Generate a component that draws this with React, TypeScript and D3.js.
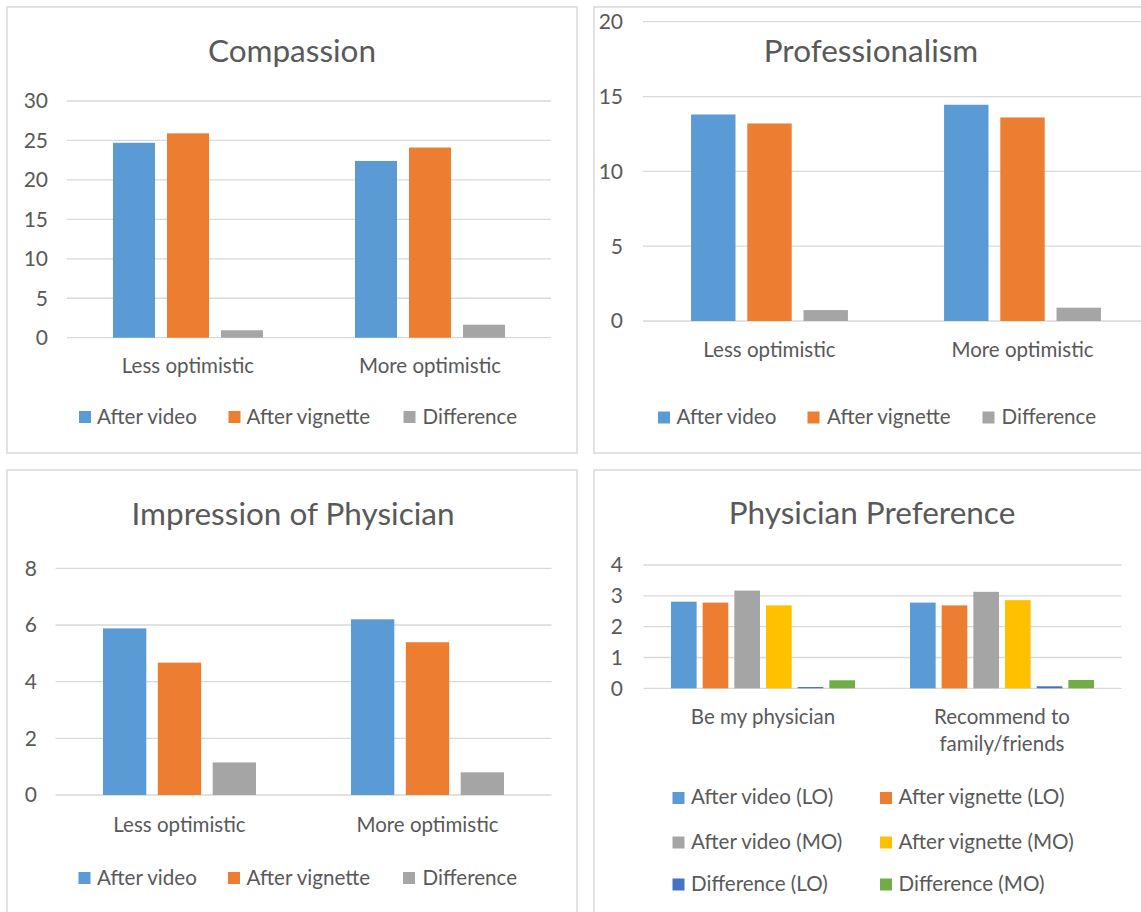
import React from 'react';
import * as d3 from 'd3';

// ---------- data ----------
const optimismCategories = ['Less optimistic', 'More optimistic'];
const threeSeries = ['After video', 'After vignette', 'Difference'];

const compassionAfterVideo = [24.7, 22.4];
const compassionAfterVignette = [25.9, 24.1];
const compassionDifference = [0.94, 1.65];

const professionalismAfterVideo = [13.8, 14.45];
const professionalismAfterVignette = [13.2, 13.6];
const professionalismDifference = [0.73, 0.89];

const impressionAfterVideo = [5.88, 6.2];
const impressionAfterVignette = [4.67, 5.39];
const impressionDifference = [1.15, 0.8];

const preferenceCategories = ['Be my physician', 'Recommend to family/friends'];
const preferenceCategoryLines = [['Be my physician'], ['Recommend to', 'family/friends']];
const sixSeries = [
  'After video (LO)',
  'After vignette (LO)',
  'After video (MO)',
  'After vignette (MO)',
  'Difference (LO)',
  'Difference (MO)',
];
const prefAfterVideoLO = [2.81, 2.78];
const prefAfterVignetteLO = [2.78, 2.69];
const prefAfterVideoMO = [3.17, 3.13];
const prefAfterVignetteMO = [2.69, 2.86];
const prefDifferenceLO = [0.04, 0.065];
const prefDifferenceMO = [0.26, 0.27];

const ticks30 = [0, 5, 10, 15, 20, 25, 30];
const ticks20 = [0, 5, 10, 15, 20];
const ticks8 = [0, 2, 4, 6, 8];
const ticks4 = [0, 1, 2, 3, 4];

// ---------- style ----------
const FONT = "Lato, 'Open Sans', sans-serif";
const TEXT = '#595959';
const GRID = '#d9d9d9';
const COLORS3 = ['#5b9bd5', '#ed7d31', '#a5a5a5'];
const COLORS6 = ['#5b9bd5', '#ed7d31', '#a5a5a5', '#ffc000', '#4472c4', '#70ad47'];

type LegendPos = { sx: number; sy: number; tx: number; ty: number };

type PanelProps = {
  frame: { x: number; y: number; w: number; h: number };
  title: string;
  titleX: number;
  titleY: number;
  titleSize: number;
  categories: string[];
  categoryLines: string[][];
  catBaseline: number;
  catLineGap: number;
  seriesNames: string[];
  colors: string[];
  values: number[][];
  ticks: number[];
  plotLeft: number;
  plotRight: number;
  plotTop: number;
  plotBottom: number;
  groupFrac: number;
  innerPad: number;
  tickRight: number;
  legend: LegendPos[];
};

const Panel = (p: PanelProps) => {
  const x0 = d3.scaleBand<string>().domain(p.categories).range([p.plotLeft, p.plotRight]).padding(0);
  const groupW = x0.bandwidth() * p.groupFrac;
  const groupOff = (x0.bandwidth() - groupW) / 2;
  const x1 = d3
    .scaleBand<string>()
    .domain(p.seriesNames)
    .range([0, groupW])
    .paddingInner(p.innerPad)
    .paddingOuter(0);
  const yMax = p.ticks[p.ticks.length - 1];
  const y = d3.scaleLinear().domain([0, yMax]).range([p.plotBottom, p.plotTop]);

  return (
    <g>
      <rect
        x={p.frame.x}
        y={p.frame.y}
        width={p.frame.w}
        height={p.frame.h}
        fill="#fff"
        stroke={GRID}
        strokeWidth={1.5}
      />
      {p.ticks.map((t) => (
        <g key={'t' + t}>
          <line
            x1={p.plotLeft}
            x2={p.plotRight}
            y1={y(t)}
            y2={y(t)}
            stroke={GRID}
            strokeWidth={1.3}
          />
          <text
            x={p.tickRight}
            y={y(t)}
            dy="0.35em"
            textAnchor="end"
            fontSize={21}
            fill={TEXT}
            fontFamily={FONT}
          >
            {t}
          </text>
        </g>
      ))}
      <text
        x={p.titleX}
        y={p.titleY}
        textAnchor="middle"
        fontSize={p.titleSize}
        fill={TEXT}
        fontFamily={FONT}
      >
        {p.title}
      </text>
      {p.categories.map((c, ci) => (
        <g key={c}>
          {p.seriesNames.map((s, si) => {
            const v = p.values[si][ci];
            const bx = (x0(c) as number) + groupOff + (x1(s) as number);
            return (
              <rect
                key={s}
                x={bx}
                y={y(v)}
                width={x1.bandwidth()}
                height={y(0) - y(v)}
                fill={p.colors[si]}
              />
            );
          })}
          <text
            x={(x0(c) as number) + x0.bandwidth() / 2}
            y={p.catBaseline}
            textAnchor="middle"
            fontSize={20.5}
            fill={TEXT}
            fontFamily={FONT}
          >
            {p.categoryLines[ci].map((ln, li) => (
              <tspan key={li} x={(x0(c) as number) + x0.bandwidth() / 2} dy={li === 0 ? 0 : p.catLineGap}>
                {ln}
              </tspan>
            ))}
          </text>
        </g>
      ))}
      {p.seriesNames.map((s, si) => (
        <g key={'lg' + s}>
          <rect x={p.legend[si].sx} y={p.legend[si].sy} width={12} height={12} fill={p.colors[si]} />
          <text x={p.legend[si].tx} y={p.legend[si].ty} fontSize={20.6} fill={TEXT} fontFamily={FONT}>
            {s}
          </text>
        </g>
      ))}
    </g>
  );
};

const legend3 = (sy: number, ty: number, xs: number[], txs: number[]): LegendPos[] =>
  xs.map((sx, i) => ({ sx, sy, tx: txs[i], ty }));

export default function App() {
  return (
    <svg
      width={1141}
      height={912}
      style={{ position: 'absolute', left: 0, top: 0, display: 'block', background: '#fff' }}
    >
      <Panel
        frame={{ x: 7, y: 7, w: 570, h: 446 }}
        title="Compassion"
        titleX={292}
        titleY={62}
        titleSize={31.5}
        categories={optimismCategories}
        categoryLines={optimismCategories.map((c) => [c])}
        catBaseline={373}
        catLineGap={27}
        seriesNames={threeSeries}
        colors={COLORS3}
        values={[compassionAfterVideo, compassionAfterVignette, compassionDifference]}
        ticks={ticks30}
        plotLeft={67}
        plotRight={551}
        plotTop={101}
        plotBottom={337.7}
        groupFrac={0.62}
        innerPad={0.222}
        tickRight={48}
        legend={legend3(411, 424, [79, 228.5, 403.5], [97, 246.5, 422.5])}
      />
      <Panel
        frame={{ x: 594, y: 7, w: 600, h: 446 }}
        title="Professionalism"
        titleX={871}
        titleY={62}
        titleSize={31.5}
        categories={optimismCategories}
        categoryLines={optimismCategories.map((c) => [c])}
        catBaseline={357}
        catLineGap={27}
        seriesNames={threeSeries}
        colors={COLORS3}
        values={[professionalismAfterVideo, professionalismAfterVignette, professionalismDifference]}
        ticks={ticks20}
        plotLeft={643}
        plotRight={1149}
        plotTop={21.7}
        plotBottom={321}
        groupFrac={0.62}
        innerPad={0.21}
        tickRight={623}
        legend={legend3(411.5, 424, [658, 807.5, 982.5], [676.5, 827, 1001.5])}
      />
      <Panel
        frame={{ x: 7, y: 470, w: 570, h: 460 }}
        title="Impression of Physician"
        titleX={293}
        titleY={525}
        titleSize={31.5}
        categories={optimismCategories}
        categoryLines={optimismCategories.map((c) => [c])}
        catBaseline={832}
        catLineGap={27}
        seriesNames={threeSeries}
        colors={COLORS3}
        values={[impressionAfterVideo, impressionAfterVignette, impressionDifference]}
        ticks={ticks8}
        plotLeft={55.5}
        plotRight={551.5}
        plotTop={568.3}
        plotBottom={795}
        groupFrac={0.617}
        innerPad={0.21}
        tickRight={37}
        legend={legend3(872, 885, [78.5, 228, 403], [97, 246.5, 422.5])}
      />
      <Panel
        frame={{ x: 594, y: 470, w: 600, h: 460 }}
        title="Physician Preference"
        titleX={872}
        titleY={524}
        titleSize={31.5}
        categories={preferenceCategories}
        categoryLines={preferenceCategoryLines}
        catBaseline={724}
        catLineGap={27}
        seriesNames={sixSeries}
        colors={COLORS6}
        values={[
          prefAfterVideoLO,
          prefAfterVignetteLO,
          prefAfterVideoMO,
          prefAfterVignetteMO,
          prefDifferenceLO,
          prefDifferenceMO,
        ]}
        ticks={ticks4}
        plotLeft={643.5}
        plotRight={1121.5}
        plotTop={565}
        plotBottom={688.3}
        groupFrac={0.77}
        innerPad={0.19}
        tickRight={623}
        legend={[
          { sx: 672.5, sy: 792, tx: 691, ty: 804 },
          { sx: 880, sy: 792, tx: 898.5, ty: 804 },
          { sx: 672.5, sy: 836.5, tx: 691, ty: 849 },
          { sx: 880, sy: 836.5, tx: 898.5, ty: 849 },
          { sx: 672.5, sy: 878.5, tx: 691, ty: 891 },
          { sx: 880, sy: 878.5, tx: 898.5, ty: 891 },
        ]}
      />
    </svg>
  );
}
